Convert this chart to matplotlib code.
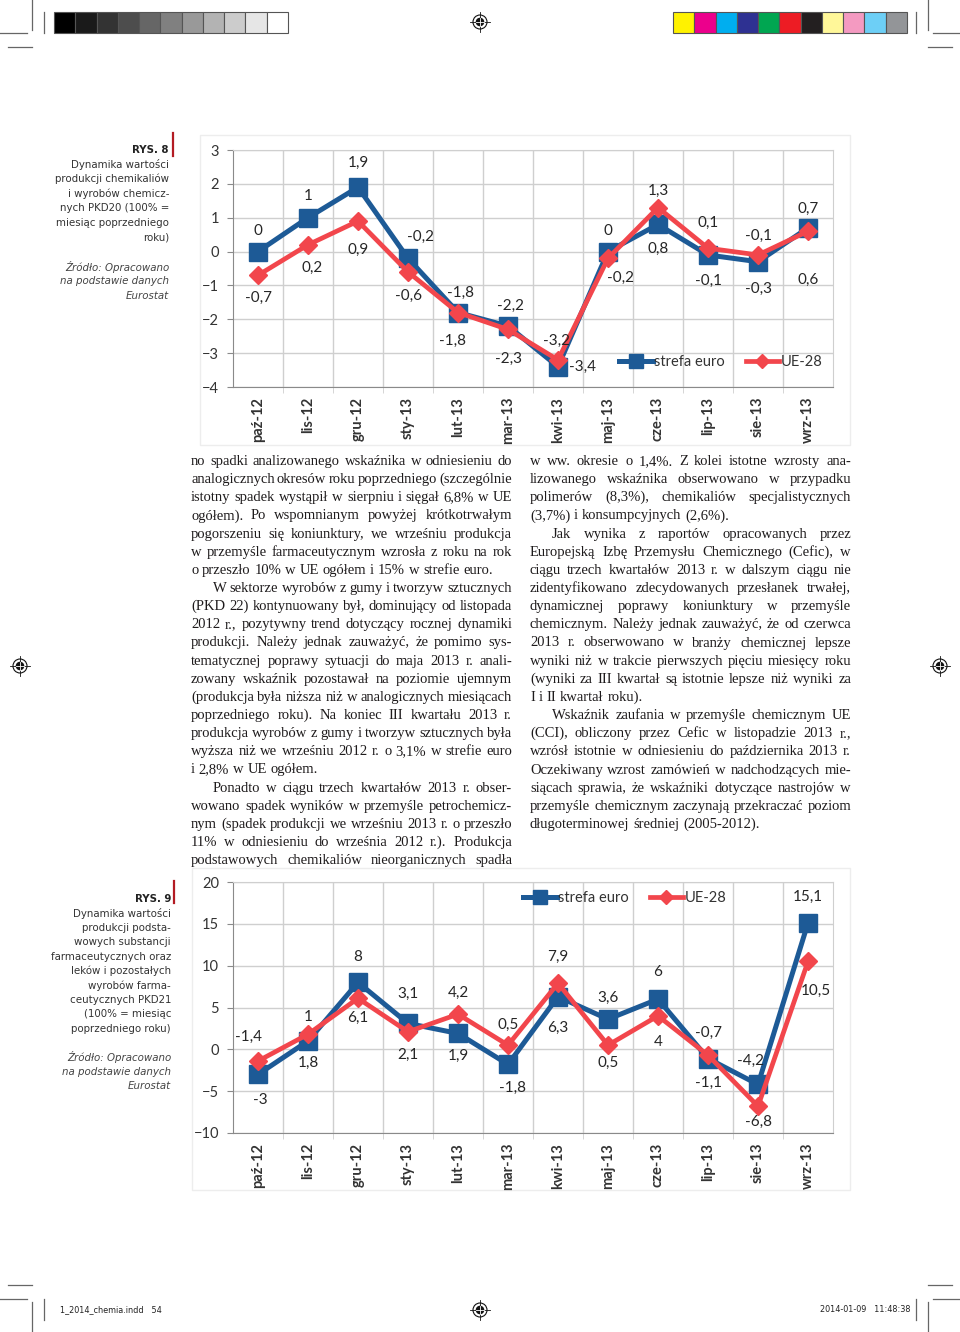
import matplotlib
matplotlib.use("Agg")
import matplotlib.pyplot as plt
import numpy as np
from matplotlib.patches import Rectangle, Circle

# ---- data -------------------------------------------------------------
months = ['paź-12', 'lis-12', 'gru-12', 'sty-13', 'lut-13', 'mar-13',
          'kwi-13', 'maj-13', 'cze-13', 'lip-13', 'sie-13', 'wrz-13']

pkd20_euro = [0, 1, 1.9, -0.2, -1.8, -2.2, -3.4, 0, 0.8, -0.1, -0.3, 0.7]
pkd20_eu28 = [-0.7, 0.2, 0.9, -0.6, -1.8, -2.3, -3.2, -0.2, 1.3, 0.1, -0.1, 0.6]

pkd21_euro = [-3, 1, 8, 3.1, 1.9, -1.8, 6.3, 3.6, 6, -1.1, -4.2, 15.1]
pkd21_eu28 = [-1.4, 1.8, 6.1, 2.1, 4.2, 0.5, 7.9, 0.5, 4, -0.7, -6.8, 10.5]

series_names = ['strefa euro', 'UE-28']

caption8 = ['Dynamika wartości', 'produkcji chemikaliów', 'i wyrobów chemicz-',
            'nych PKD20 (100% =', 'miesiąc poprzedniego', 'roku)']
caption9 = ['Dynamika wartości', 'produkcji podsta-', 'wowych substancji',
            'farmaceutycznych oraz', 'leków i pozostałych', 'wyrobów farma-',
            'ceutycznych PKD21', '(100% = miesiąc', 'poprzedniego roku)']
source_lines = ['Źródło: Opracowano', 'na podstawie danych', 'Eurostat']

col1_paragraphs = [
    ['no spadki analizowanego wskaźnika w odniesieniu do',
     'analogicznych okresów roku poprzedniego (szczególnie',
     'istotny spadek wystąpił w sierpniu i sięgał 6,8% w UE',
     'ogółem). Po wspomnianym powyżej krótkotrwałym',
     'pogorszeniu się koniunktury, we wrześniu produkcja',
     'w przemyśle farmaceutycznym wzrosła z roku na rok',
     'o przeszło 10% w UE ogółem i 15% w strefie euro.'],
    ['W sektorze wyrobów z gumy i tworzyw sztucznych',
     '(PKD 22) kontynuowany był, dominujący od listopada',
     '2012 r., pozytywny trend dotyczący rocznej dynamiki',
     'produkcji. Należy jednak zauważyć, że pomimo sys-',
     'tematycznej poprawy sytuacji do maja 2013 r. anali-',
     'zowany wskaźnik pozostawał na poziomie ujemnym',
     '(produkcja była niższa niż w analogicznych miesiącach',
     'poprzedniego roku). Na koniec III kwartału 2013 r.',
     'produkcja wyrobów z gumy i tworzyw sztucznych była',
     'wyższa niż we wrześniu 2012 r. o 3,1% w strefie euro',
     'i 2,8% w UE ogółem.'],
    ['Ponadto w ciągu trzech kwartałów 2013 r. obser-',
     'wowano spadek wyników w przemyśle petrochemicz-',
     'nym (spadek produkcji we wrześniu 2013 r. o przeszło',
     '11% w odniesieniu do września 2012 r.). Produkcja',
     'podstawowych chemikaliów nieorganicznych spadła'],
]
col2_paragraphs = [
    ['w ww. okresie o 1,4%. Z kolei istotne wzrosty ana-',
     'lizowanego wskaźnika obserwowano w przypadku',
     'polimerów (8,3%), chemikaliów specjalistycznych',
     '(3,7%) i konsumpcyjnych (2,6%).'],
    ['Jak wynika z raportów opracowanych przez',
     'Europejską Izbę Przemysłu Chemicznego (Cefic), w',
     'ciągu trzech kwartałów 2013 r. w dalszym ciągu nie',
     'zidentyfikowano zdecydowanych przesłanek trwałej,',
     'dynamicznej poprawy koniunktury w przemyśle',
     'chemicznym. Należy jednak zauważyć, że od czerwca',
     '2013 r. obserwowano w branży chemicznej lepsze',
     'wyniki niż w trakcie pierwszych pięciu miesięcy roku',
     '(wyniki za III kwartał są istotnie lepsze niż wyniki za',
     'I i II kwartał roku).'],
    ['Wskaźnik zaufania w przemyśle chemicznym UE',
     '(CCI), obliczony przez Cefic w listopadzie 2013 r.,',
     'wzrósł istotnie w odniesieniu do października 2013 r.',
     'Oczekiwany wzrost zamówień w nadchodzących mie-',
     'siącach sprawia, że wskaźniki dotyczące nastrojów w',
     'przemyśle chemicznym zaczynają przekraczać poziom',
     'długoterminowej średniej (2005-2012).'],
]

# label offsets in pixels (dx, dy up) -- styling only
off20_euro = [(0, 21), (0, 22), (0, 24), (12, 21), (2, 20), (2, 20),
              (25, 0), (0, 21), (0, -24), (0, -26), (0, -27), (0, 19)]
off20_eu28 = [(0, -23), (4, -23), (0, -29), (0, -24), (-5, -28), (0, -29),
              (-1, 19), (12, -20), (0, 17), (0, 25), (0, 19), (0, -49)]
off21_euro = [(2, -26), (0, 24), (0, 25), (0, 30), (0, -22), (4, -23),
              (0, -31), (0, 21), (0, 27), (0, -24), (-8, 24), (0, 26)]
off21_eu28 = [(-10, 24), (0, -29), (0, -20), (0, -23), (0, 21), (0, 20),
              (0, 26), (0, -18), (0, -26), (0, 22), (0, -16), (8, -29)]

BLUE = '#1d5a96'
RED = '#f2464c'
GRID = '#cfcfcf'
TXT = '#262626'
CHART_FONT = 'Lato'
NARROW = ['DejaVu Sans']
SERIF = ['Liberation Serif', 'DejaVu Serif']

W, H = 960, 1332
fig = plt.figure(figsize=(W / 100, H / 100), dpi=100)
page = fig.add_axes([0, 0, 1, 1], zorder=0)
page.set_xlim(0, W)
page.set_ylim(H, 0)
page.axis('off')


def fmt(v):
    return f'{v:g}'.replace('.', ',')


def draw_chart(ax, euro, eu28, ylim, ystep, off_euro, off_eu28, leg_anchor):
    x = np.arange(len(months))
    ax.plot(x, euro, color=BLUE, lw=3.6, marker='s', ms=13,
            solid_joinstyle='round', label=series_names[0], zorder=3)
    ax.plot(x, eu28, color=RED, lw=3.4, marker='D', ms=9,
            solid_joinstyle='round', label=series_names[1], zorder=4)
    for vals, offs in ((euro, off_euro), (eu28, off_eu28)):
        for xi, v, (dx, dy) in zip(x, vals, offs):
            ax.annotate(fmt(v), (xi, v), xytext=(dx, dy), textcoords='offset pixels',
                        ha='center', va='center', fontsize=11, color=TXT,
                        family=CHART_FONT, zorder=5)
    ax.set_xlim(-0.5, len(months) - 0.5)
    ax.set_ylim(*ylim)
    ax.set_yticks(np.arange(ylim[0], ylim[1] + 0.01, ystep))
    ax.set_xticks(x)
    ax.set_xticklabels(months, rotation=90, fontsize=10.5, fontweight='bold',
                       family=CHART_FONT, color='#333333')
    ax.set_xticks(np.arange(0.5, len(months) - 1, 1), minor=True)
    for lab in ax.get_yticklabels():
        lab.set_family(CHART_FONT)
    ax.tick_params(axis='y', length=4, color='#8a8a8a', pad=6, labelsize=10.5,
                   labelcolor='#333333')
    ax.tick_params(axis='x', which='major', length=0, pad=7)
    ax.tick_params(axis='x', which='minor', length=4, color=GRID)
    ax.grid(axis='y', which='major', color=GRID, lw=1)
    ax.grid(axis='x', which='minor', color=GRID, lw=1)
    ax.set_axisbelow(True)
    for side in ('left', 'bottom'):
        ax.spines[side].set_color('#8a8a8a')
    for side in ('top', 'right'):
        ax.spines[side].set_color(GRID)
    leg = ax.legend(loc='center', bbox_to_anchor=leg_anchor, ncol=2, frameon=False,
                    handlelength=2.3, handletextpad=0.1, columnspacing=1.4,
                    markerscale=0.75, prop={'family': CHART_FONT, 'size': 10.5})
    for t in leg.get_texts():
        t.set_color('#333333')


# chart frames
page.add_patch(Rectangle((200, 135), 650, 310, fill=False, ec='#ededed', lw=1))
page.add_patch(Rectangle((192, 868), 658, 322, fill=False, ec='#ededed', lw=1))

ax1 = fig.add_axes([233 / W, 1 - 387 / H, 600 / W, 237 / H], zorder=2)
draw_chart(ax1, pkd20_euro, pkd20_eu28, (-4, 3), 1, off20_euro, off20_eu28,
           (0.813, 0.105))
ax2 = fig.add_axes([233 / W, 1 - 1133 / H, 600 / W, 251 / H], zorder=2)
draw_chart(ax2, pkd21_euro, pkd21_eu28, (-10, 20), 5, off21_euro, off21_eu28,
           (0.653, 0.936))


# ---- side captions ----------------------------------------------------
def caption(title, lines, right, y_title, step, bar_x, bar_y):
    page.plot([bar_x, bar_x], bar_y, color='#b31b23', lw=1.6)
    page.text(right, y_title, title, ha='right', va='center', fontsize=8.2,
              fontweight='bold', family=NARROW, fontstretch='condensed',
              color='#222222')
    y = y_title + step
    for ln in lines:
        page.text(right, y, ln, ha='right', va='center', fontsize=8.2,
                  family=NARROW, fontstretch='condensed', color='#333333')
        y += step
    y += step
    for ln in source_lines:
        page.text(right, y, ln, ha='right', va='center', fontsize=8.2,
                  family=NARROW, fontstretch='condensed', style='italic',
                  color='#444444')
        y += step


caption('RYS. 8', caption8, 169, 150, 14.6, 173, (133, 156))
caption('RYS. 9', caption9, 171, 899, 14.4, 174, (881, 903))

# ---- justified body text ----------------------------------------------
renderer = fig.canvas.get_renderer()


def word_widths(line, size):
    out = []
    for w in line.split():
        t = page.text(0, 0, w, fontsize=size, family=SERIF)
        out.append(t.get_window_extent(renderer).width)
        t.remove()
    return out


def draw_column(paragraphs, x0, width, y0, step, size, indent, cont_start, open_end):
    i = 0
    for p, para in enumerate(paragraphs):
        for j, line in enumerate(para):
            ind = indent if (j == 0 and not (p == 0 and cont_start)) else 0
            last = (j == len(para) - 1) and not (p == len(paragraphs) - 1 and open_end)
            y = y0 + i * step
            words = line.split()
            objs = [page.text(0, y, w, fontsize=size, family=SERIF, color='#1e1b1c',
                              ha='left', va='baseline') for w in words]
            widths = [o.get_window_extent(renderer).width for o in objs]
            if last or len(words) == 1:
                gap = size * 0.36
            else:
                gap = (width - ind - sum(widths)) / (len(words) - 1)
            x = x0 + ind
            for o, w in zip(objs, widths):
                o.set_x(x)
                x += w + gap
            i += 1


# choose a size so the tightest line still fits with a small minimum gap
base = 10.5
min_gap = 1.9
ratios = []
for para in col1_paragraphs + col2_paragraphs:
    for ln in para:
        ws = word_widths(ln, base)
        ratios.append((321 - min_gap * (len(ws) - 1)) / sum(ws))
body_size = min(11.0, base * min(ratios))

draw_column(col1_paragraphs, 191, 321, 465, 18.14, body_size, 22, True, True)
draw_column(col2_paragraphs, 530, 321, 465, 18.15, body_size, 22, True, False)

# ---- printer marks ----------------------------------------------------
grays = ['#000000', '#1a1a1a', '#333333', '#4d4d4d', '#666666', '#808080',
         '#999999', '#b3b3b3', '#cccccc', '#e6e6e6', '#ffffff']
process = ['#fff200', '#ec008c', '#00aeef', '#2e3192', '#00a651', '#ed1c24',
           '#231f20', '#fff799', '#f49ac1', '#6dcff6', '#939598']
sw = 234 / 11
for k, c in enumerate(grays):
    page.add_patch(Rectangle((54 + k * sw, 12), sw, 21, fc=c, ec='#555555', lw=0.8))
for k, c in enumerate(process):
    page.add_patch(Rectangle((673 + k * sw, 12), sw, 21, fc=c, ec='#555555', lw=0.8))


def reg_mark(cx, cy):
    page.add_patch(Circle((cx, cy), 7, fill=False, ec='#111111', lw=0.8))
    page.add_patch(Circle((cx, cy), 4.3, fc='#111111', ec='none'))
    page.plot([cx - 10, cx + 10], [cy, cy], color='#111111', lw=0.6)
    page.plot([cx, cx], [cy - 10, cy + 10], color='#111111', lw=0.6)
    page.plot([cx - 4.3, cx + 4.3], [cy, cy], color='white', lw=0.6)
    page.plot([cx, cx], [cy - 4.3, cy + 4.3], color='white', lw=0.6)


for cx, cy in ((480, 22), (20, 666), (940, 666), (480, 1310)):
    reg_mark(cx, cy)

crop = dict(color='#666666', lw=0.9)
for sx in (1, -1):
    bx = 0 if sx == 1 else W
    page.plot([bx + sx * 32] * 2, [0, 30], **crop)
    page.plot([bx + sx * 44] * 2, [12, 33], **crop)
    page.plot([bx, bx + sx * 27], [33, 33], **crop)
    page.plot([bx + sx * 8, bx + sx * 32], [47, 47], **crop)
    page.plot([bx + sx * 32] * 2, [H - 30, H], **crop)
    page.plot([bx + sx * 44] * 2, [H - 33, H - 12], **crop)
    page.plot([bx, bx + sx * 27], [H - 33, H - 33], **crop)
    page.plot([bx + sx * 8, bx + sx * 32], [H - 47, H - 47], **crop)

page.text(60, 1310, '1_2014_chemia.indd   54', ha='left', va='center',
          fontsize=6.5, family=NARROW, fontstretch='condensed', color='#222222')
page.text(910, 1310, '2014-01-09   11:48:38', ha='right', va='center',
          fontsize=6.5, family=NARROW, fontstretch='condensed', color='#222222')

fig.savefig('out.png', dpi=100)
plt.close(fig)
